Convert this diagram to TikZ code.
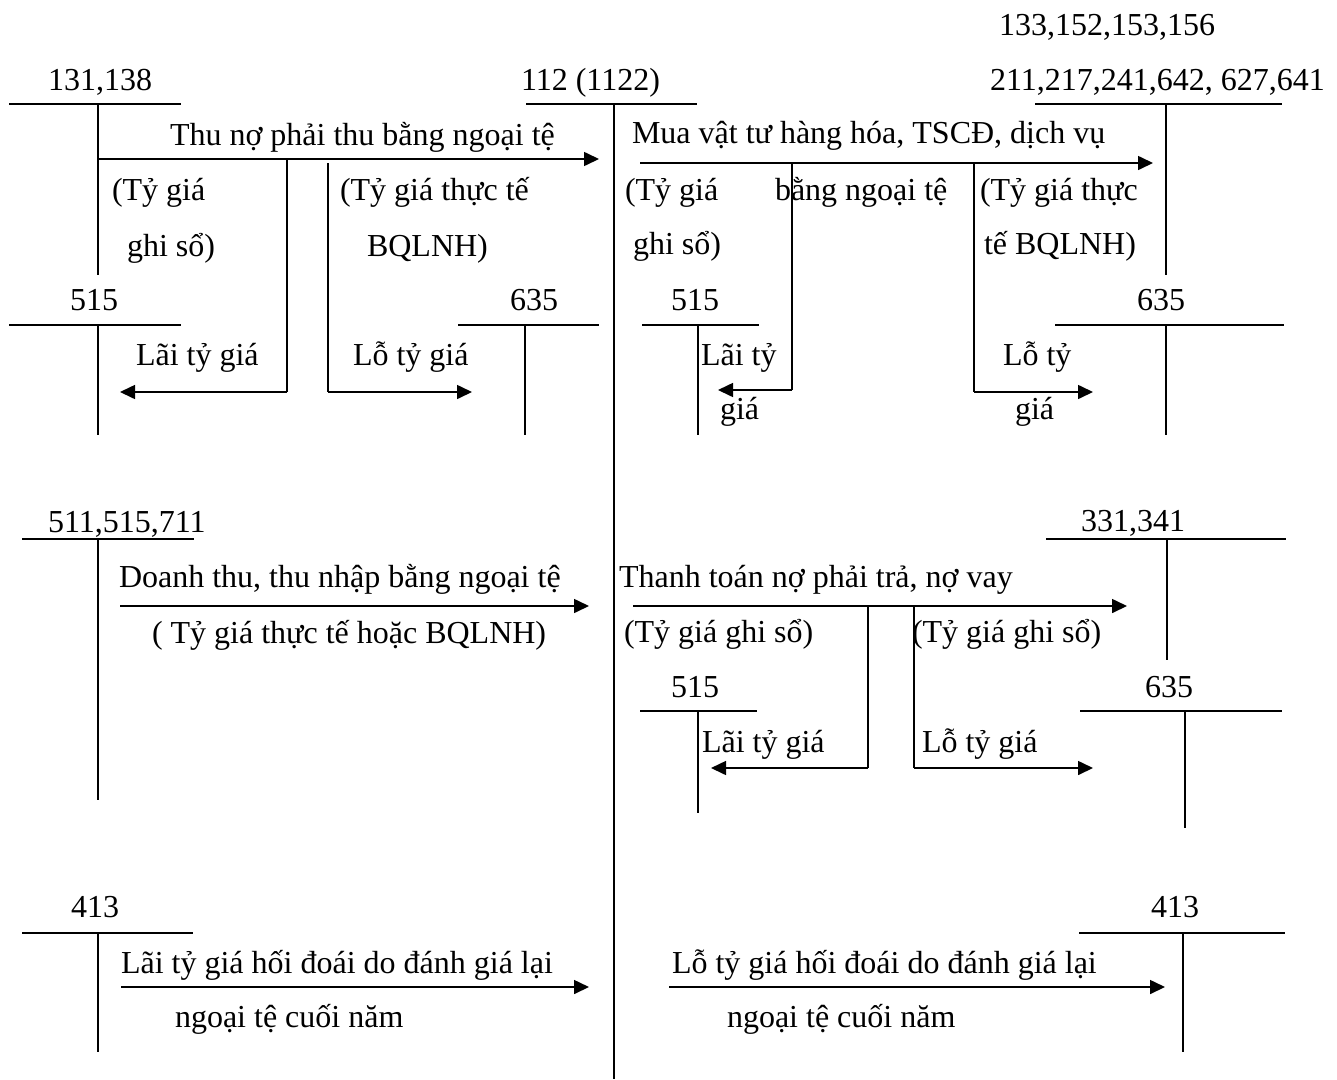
\documentclass[tikz,border=0pt]{standalone}
\usepackage{fontspec}
\setmainfont{Liberation Serif}
\usetikzlibrary{arrows.meta}
\tikzset{
  tline/.style={line width=1.4pt},
  arr/.style={line width=1.6pt,-{Triangle[length=15pt,width=14pt]}},
  conn/.style={line width=1.6pt},
  lbl/.style={anchor=base west,inner sep=0pt,outer sep=0pt,font=\fontsize{32}{38}\selectfont},
}
\newcommand{\TAcct}[6]{%
  \coordinate (#1-l) at (#2,#5);
  \coordinate (#1-r) at (#3,#5);
  \coordinate (#1-t) at (#4,#5);
  \coordinate (#1-b) at (#4,#6);
  \draw[tline] (#1-l) -- (#1-r);
  \draw[tline] (#1-t) -- (#1-b);}
\begin{document}
\begin{tikzpicture}[x=1pt,y=-1pt]
\useasboundingbox (0,0) rectangle (1337,1079);
% ---- T accounts
\TAcct{a131}{9}{181}{98}{104}{275}
\TAcct{a112}{526}{697}{614}{104}{1079}
\TAcct{a211}{1035}{1282}{1166}{104}{275}
\TAcct{a515a}{9}{181}{98}{325}{435}
\TAcct{a635a}{458}{599}{525}{325}{435}
\TAcct{a515b}{642}{759}{698}{325}{435}
\TAcct{a635b}{1055}{1284}{1166}{325}{435}
\TAcct{a511}{22}{194}{98}{539}{800}
\TAcct{a331}{1046}{1286}{1167}{539}{660}
\TAcct{a515c}{640}{757}{698}{711}{813}
\TAcct{a635c}{1080}{1282}{1185}{711}{828}
\TAcct{a413a}{22}{193}{98}{933}{1052}
\TAcct{a413b}{1079}{1285}{1183}{933}{1052}
% ---- account labels
\node[lbl] (n131) at (48,90) {131,138};
\node[lbl] (n112) at (521,90) {112 (1122)};
\node[lbl] (n133) at (999,35) {133,152,153,156};
\node[lbl] (n211) at (990,90) {211,217,241,642, 627,641};
\node[lbl] (n515a) at (70,310) {515};
\node[lbl] (n635a) at (510,310) {635};
\node[lbl] (n515b) at (671,310) {515};
\node[lbl] (n635b) at (1137,310) {635};
\node[lbl] (n511) at (48,532) {511,515,711};
\node[lbl] (n331) at (1081,531) {331,341};
\node[lbl] (n515c) at (671,697) {515};
\node[lbl] (n635c) at (1145,697) {635};
\node[lbl] (n413a) at (71,917) {413};
\node[lbl] (n413b) at (1151,917) {413};
% ---- block 1: Thu no phai thu
\coordinate (s1) at (98,159);
\coordinate (e1) at (599,159);
\coordinate (b1a) at (287,159);
\coordinate (b1b) at (328,163);
\coordinate (b1ac) at (287,392);
\coordinate (b1bc) at (328,392);
\coordinate (t1a) at (120,392);
\coordinate (t1b) at (472,392);
\draw[arr] (s1) -- (e1);
\draw[conn] (b1a) -- (b1ac);
\draw[arr] (b1ac) -- (t1a);
\draw[conn] (b1b) -- (b1bc);
\draw[arr] (b1bc) -- (t1b);
\node[lbl] at (170,145) {Thu nợ phải thu bằng ngoại tệ};
\node[lbl] at (112,200) {(Tỷ giá};
\node[lbl] at (127,256) {ghi sổ)};
\node[lbl] at (340,200) {(Tỷ giá thực tế};
\node[lbl] at (367,256) {BQLNH)};
\node[lbl] at (136,365) {Lãi tỷ giá};
\node[lbl] at (353,365) {Lỗ tỷ giá};
% ---- block 2: Mua vat tu
\coordinate (s2) at (640,163);
\coordinate (e2) at (1153,163);
\coordinate (b2a) at (792,163);
\coordinate (b2b) at (974,163);
\coordinate (b2ac) at (792,390);
\coordinate (b2bc) at (974,392);
\coordinate (t2a) at (718,390);
\coordinate (t2b) at (1093,392);
\draw[arr] (s2) -- (e2);
\draw[conn] (b2a) -- (b2ac);
\draw[arr] (b2ac) -- (t2a);
\draw[conn] (b2b) -- (b2bc);
\draw[arr] (b2bc) -- (t2b);
\node[lbl] at (632,143) {Mua vật tư hàng hóa, TSCĐ, dịch vụ};
\node[lbl] at (625,200) {(Tỷ giá};
\node[lbl] at (633,254) {ghi sổ)};
\node[lbl] at (775,200) {bằng ngoại tệ};
\node[lbl] at (980,200) {(Tỷ giá thực};
\node[lbl] at (984,254) {tế BQLNH)};
\node[lbl] at (701,365) {Lãi tỷ};
\node[lbl] at (720,419) {giá};
\node[lbl] at (1003,365) {Lỗ tỷ};
\node[lbl] at (1015,419) {giá};
% ---- block 3: Doanh thu
\coordinate (s3) at (120,606);
\coordinate (e3) at (589,606);
\draw[arr] (s3) -- (e3);
\node[lbl] at (119,587) {Doanh thu, thu nhập bằng ngoại tệ};
\node[lbl] at (152,643) {( Tỷ giá thực tế hoặc BQLNH)};
% ---- block 4: Thanh toan
\coordinate (s4) at (633,606);
\coordinate (e4) at (1127,606);
\coordinate (b4a) at (868,606);
\coordinate (b4b) at (914,606);
\coordinate (b4ac) at (868,768);
\coordinate (b4bc) at (914,768);
\coordinate (t4a) at (711,768);
\coordinate (t4b) at (1093,768);
\draw[arr] (s4) -- (e4);
\draw[conn] (b4a) -- (b4ac);
\draw[arr] (b4ac) -- (t4a);
\draw[conn] (b4b) -- (b4bc);
\draw[arr] (b4bc) -- (t4b);
\node[lbl] at (619,587) {Thanh toán nợ phải trả, nợ vay};
\node[lbl] at (624,642) {(Tỷ giá ghi sổ)};
\node[lbl] at (912,642) {(Tỷ giá ghi sổ)};
\node[lbl] at (702,752) {Lãi tỷ giá};
\node[lbl] at (922,752) {Lỗ tỷ giá};
% ---- block 5: 413
\coordinate (s5) at (121,987);
\coordinate (e5) at (589,987);
\coordinate (s6) at (669,987);
\coordinate (e6) at (1165,987);
\draw[arr] (s5) -- (e5);
\draw[arr] (s6) -- (e6);
\node[lbl] at (121,973) {Lãi tỷ giá hối đoái do đánh giá lại};
\node[lbl] at (175,1027) {ngoại tệ cuối năm};
\node[lbl] at (672,973) {Lỗ tỷ giá hối đoái do đánh giá lại};
\node[lbl] at (727,1027) {ngoại tệ cuối năm};
\end{tikzpicture}
\end{document}
